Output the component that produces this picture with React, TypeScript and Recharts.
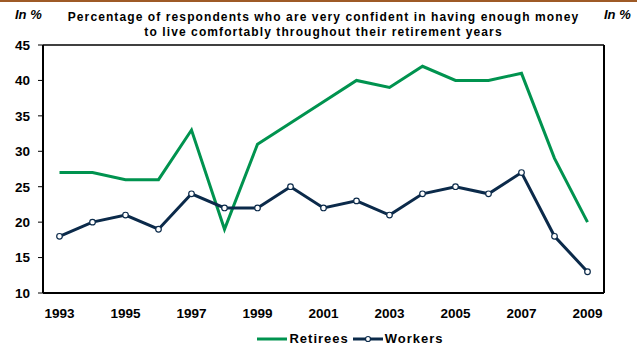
import { Legend, Line, LineChart, ReferenceLine, XAxis, YAxis } from "recharts";

const years = [
  "1993", "1994", "1995", "1996", "1997", "1998", "1999", "2000", "2001",
  "2002", "2003", "2004", "2005", "2006", "2007", "2008", "2009",
];
const retirees = [27, 27, 26, 26, 33, 19, 31, 34, 37, 40, 39, 42, 40, 40, 41, 29, 20];
const workers = [18, 20, 21, 19, 24, 22, 22, 25, 22, 23, 21, 24, 25, 24, 27, 18, 13];
const yTicks = [10, 15, 20, 25, 30, 35, 40, 45];

const data = years.map((year, i) => ({
  year,
  retirees: retirees[i],
  workers: workers[i],
}));

const font = "'Liberation Sans', Arial, sans-serif";
const tickStyle = { fill: "#000", fontSize: 13.5, fontWeight: 700, fontFamily: font };
const green = "#00934f";
const navy = "#0b2a4a";

function LegendContent() {
  const item = { display: "inline-flex", alignItems: "center", marginRight: 4 } as const;
  return (
    <div
      style={{
        display: "flex",
        justifyContent: "center",
        fontFamily: font,
        fontWeight: 700,
        fontSize: 13,
        letterSpacing: 1,
        color: "#000",
        paddingLeft: 68,
        marginTop: 8,
      }}
    >
      <span style={item}>
        <svg width={32} height={10}>
          <line x1={0} y1={5} x2={30} y2={5} stroke={green} strokeWidth={3} />
        </svg>
        Retirees
      </span>
      <span style={item}>
        <svg width={32} height={10}>
          <line x1={0} y1={5} x2={30} y2={5} stroke={navy} strokeWidth={3} />
          <circle cx={15} cy={5} r={2.5} fill="#fff" stroke={navy} strokeWidth={1.2} />
        </svg>
        Workers
      </span>
    </div>
  );
}

export default function App() {
  return (
    <div style={{ position: "absolute", left: 0, top: 0, width: 637, height: 348, background: "#fff" }}>
      <div style={{ position: "absolute", left: 0, top: 0, width: 637, height: 2, background: "#9e5a26" }} />
      <LineChart
        width={637}
        height={348}
        data={data}
        margin={{ top: 45, right: 0, left: 0, bottom: 0 }}
      >
        <XAxis
          dataKey="year"
          interval={1}
          padding={{ left: 16.5, right: 16.5 }}
          tick={tickStyle}
          tickLine={false}
          tickSize={0}
          tickMargin={15}
          height={30}
          axisLine={{ stroke: "#000", strokeWidth: 2 }}
        />
        <YAxis
          yAxisId="left"
          domain={[10, 45]}
          ticks={yTicks}
          width={43}
          tick={tickStyle}
          tickSize={5}
          tickMargin={8}
          tickLine={{ stroke: "#000" }}
          axisLine={{ stroke: "#000", strokeWidth: 2 }}
        />
        <YAxis
          yAxisId="right"
          orientation="right"
          domain={[10, 45]}
          ticks={yTicks}
          width={33}
          tick={{ ...tickStyle, textAnchor: "start" }}
          tickSize={5}
          tickMargin={4}
          tickLine={{ stroke: "#000" }}
          axisLine={{ stroke: "#000", strokeWidth: 2 }}
        />
        <ReferenceLine yAxisId="left" y={45} stroke="#000" strokeWidth={1.5} />
        <Legend verticalAlign="bottom" height={25} content={<LegendContent />} />
        <Line
          yAxisId="left"
          dataKey="retirees"
          name="Retirees"
          stroke={green}
          strokeWidth={3}
          dot={false}
          isAnimationActive={false}
        />
        <Line
          yAxisId="left"
          dataKey="workers"
          name="Workers"
          stroke={navy}
          strokeWidth={3}
          dot={{ r: 2.8, fill: "#fff", stroke: navy, strokeWidth: 1.2 }}
          isAnimationActive={false}
        />
      </LineChart>
      <div
        style={{
          position: "absolute",
          left: 0,
          top: 10,
          width: 647,
          textAlign: "center",
          fontFamily: font,
          fontWeight: 700,
          fontSize: 12,
          letterSpacing: 1.1,
          lineHeight: "15px",
          color: "#000",
        }}
      >
        Percentage of respondents who are very confident in having enough money
        <br />
        to live comfortably throughout their retirement years
      </div>
      <div style={{ position: "absolute", left: 15, top: 7, fontFamily: font, fontWeight: 700, fontStyle: "italic", fontSize: 13 }}>
        In %
      </div>
      <div style={{ position: "absolute", left: 604, top: 7, fontFamily: font, fontWeight: 700, fontStyle: "italic", fontSize: 13 }}>
        In %
      </div>
    </div>
  );
}
